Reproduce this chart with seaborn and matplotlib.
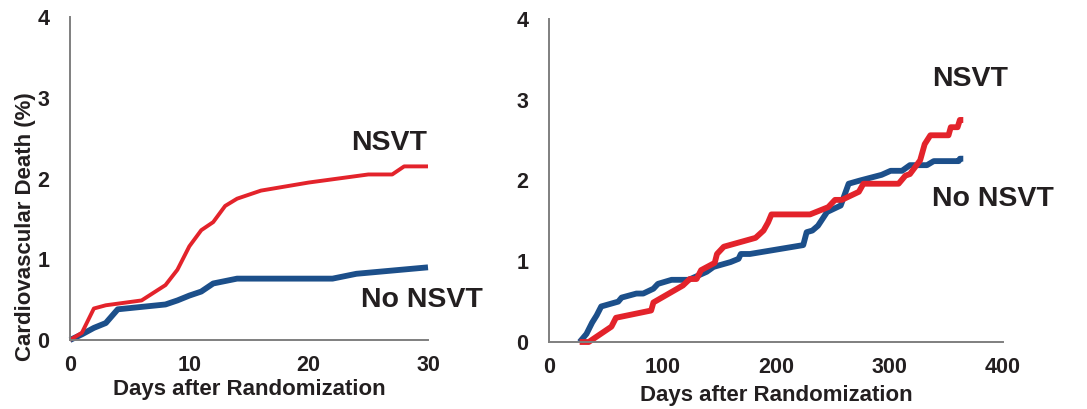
import matplotlib
matplotlib.use("Agg")
import matplotlib.pyplot as plt
import seaborn as sns
import pandas as pd

# ---- data: left panel (0-30 days) ----
left_nsvt_days = [0, 1, 2, 3, 6, 8, 9, 10, 11, 12, 13, 14, 16, 20, 22, 25, 27, 28, 30]
left_nsvt_pct = [0, 0.09, 0.39, 0.43, 0.49, 0.68, 0.87, 1.16, 1.36, 1.46, 1.66, 1.75, 1.85, 1.95, 1.99, 2.05, 2.05, 2.15, 2.15]
left_no_days = [0, 1, 2, 3, 4, 6, 8, 9, 10, 11, 12, 14, 22, 24, 30]
left_no_pct = [0, 0.07, 0.15, 0.21, 0.38, 0.41, 0.44, 0.49, 0.55, 0.60, 0.70, 0.76, 0.76, 0.82, 0.90]

# ---- data: right panel (30-365 days) ----
right_no_days = [27, 33, 38, 42, 46, 61, 64, 77, 83, 92, 96, 108, 123, 139, 145, 160, 167, 169, 177,
                 224, 227, 232, 237, 245, 257, 264, 274, 293, 301, 311, 318, 333, 339, 361, 362, 365]
right_no_pct = [0, 0.10, 0.24, 0.33, 0.44, 0.50, 0.55, 0.60, 0.60, 0.66, 0.72, 0.77, 0.77, 0.87, 0.93,
                0.99, 1.03, 1.09, 1.09, 1.20, 1.36, 1.38, 1.44, 1.61, 1.69, 1.96, 2.00, 2.07, 2.12, 2.12,
                2.19, 2.19, 2.24, 2.24, 2.27, 2.27]
right_nsvt_days = [27, 35, 55, 59, 90, 92, 118, 124, 130, 134, 146, 148, 154, 182, 189, 193, 196, 230,
                   246, 252, 258, 273, 277, 308, 314, 318, 327, 331, 336, 352, 354, 360, 362, 365]
right_nsvt_pct = [0, 0, 0.19, 0.30, 0.39, 0.49, 0.70, 0.78, 0.78, 0.89, 0.98, 1.09, 1.18, 1.29, 1.38,
                  1.48, 1.58, 1.58, 1.67, 1.76, 1.76, 1.86, 1.96, 1.96, 2.06, 2.08, 2.25, 2.45, 2.56,
                  2.56, 2.66, 2.66, 2.75, 2.75]

groups = ["NSVT", "No NSVT"]
x_label = "Days after Randomization"
y_label = "Cardiovascular Death (%)"
left_xticks = [0, 10, 20, 30]
right_xticks = [0, 100, 200, 300, 400]
yticks = [0, 1, 2, 3, 4]

RED = "#E3232B"
BLUE = "#1C4F8A"
TXT = "#231F20"
SPINE = "#7F7F7F"

sns.set_style("white")
plt.rcParams["font.family"] = ["Liberation Sans", "DejaVu Sans"]
plt.rcParams["font.weight"] = "bold"

df_left = pd.concat([
    pd.DataFrame({"day": left_nsvt_days, "pct": left_nsvt_pct, "group": groups[0]}),
    pd.DataFrame({"day": left_no_days, "pct": left_no_pct, "group": groups[1]}),
])
df_right = pd.concat([
    pd.DataFrame({"day": right_nsvt_days, "pct": right_nsvt_pct, "group": groups[0]}),
    pd.DataFrame({"day": right_no_days, "pct": right_no_pct, "group": groups[1]}),
])

fig = plt.figure(figsize=(10.87, 4.09), dpi=100)
axL = fig.add_axes([70 / 1087, 1 - 340 / 409, (428 - 70) / 1087, (340 - 17) / 409])
axR = fig.add_axes([549 / 1087, 1 - 342 / 409, (1003 - 549) / 1087, (342 - 19) / 409])

sns.lineplot(data=df_left[df_left.group == groups[1]], x="day", y="pct", color=BLUE,
             linewidth=4.2, ax=axL, estimator=None, sort=False, legend=False)
sns.lineplot(data=df_left[df_left.group == groups[0]], x="day", y="pct", color=RED,
             linewidth=2.8, ax=axL, estimator=None, sort=False, legend=False)
sns.lineplot(data=df_right[df_right.group == groups[1]], x="day", y="pct", color=BLUE,
             linewidth=4.2, ax=axR, estimator=None, sort=False, legend=False)
sns.lineplot(data=df_right[df_right.group == groups[0]], x="day", y="pct", color=RED,
             linewidth=4.2, ax=axR, estimator=None, sort=False, legend=False)

for ax, xt, lp in ((axL, left_xticks, 2), (axR, right_xticks, 5)):
    ax.set_xlim(xt[0], xt[-1])
    ax.set_ylim(0, 4)
    ax.set_xticks(xt)
    ax.set_yticks(yticks)
    ax.set_xticklabels([str(v) for v in xt], fontsize=15.5, fontweight="bold", color=TXT)
    ax.set_yticklabels([str(v) for v in yticks], fontsize=15.5, fontweight="bold", color=TXT)
    for s in ("top", "right"):
        ax.spines[s].set_visible(False)
    for s in ("left", "bottom"):
        ax.spines[s].set_color(SPINE)
        ax.spines[s].set_linewidth(1.4)
    ax.tick_params(axis="x", direction="out", length=6, width=1.4, color=SPINE, pad=5)
    ax.tick_params(axis="y", direction="out", length=7, width=1.4, color=SPINE, pad=8)
    ax.set_xlabel(x_label, fontsize=16, fontweight="bold", color=TXT, labelpad=lp)
    ax.set_ylabel("")
    ax.patch.set_alpha(0)
    for line in ax.get_lines():
        line.set_clip_on(False)
        line.set_solid_capstyle("butt")

axL.set_ylabel(y_label, fontsize=16, fontweight="bold", color=TXT, labelpad=4)
axL.yaxis.set_label_coords(-0.094, 0.35)

# group labels
axL.text(26.7, 2.44, groups[0], fontsize=20.5, fontweight="bold", color=TXT, ha="center", va="center")
axL.text(29.5, 0.50, groups[1], fontsize=20.5, fontweight="bold", color=TXT, ha="center", va="center")
axR.text(371, 3.26, groups[0], fontsize=20.5, fontweight="bold", color=TXT, ha="center", va="center")
axR.text(391, 1.77, groups[1], fontsize=20.5, fontweight="bold", color=TXT, ha="center", va="center")

fig.savefig("out.png", dpi=100)
